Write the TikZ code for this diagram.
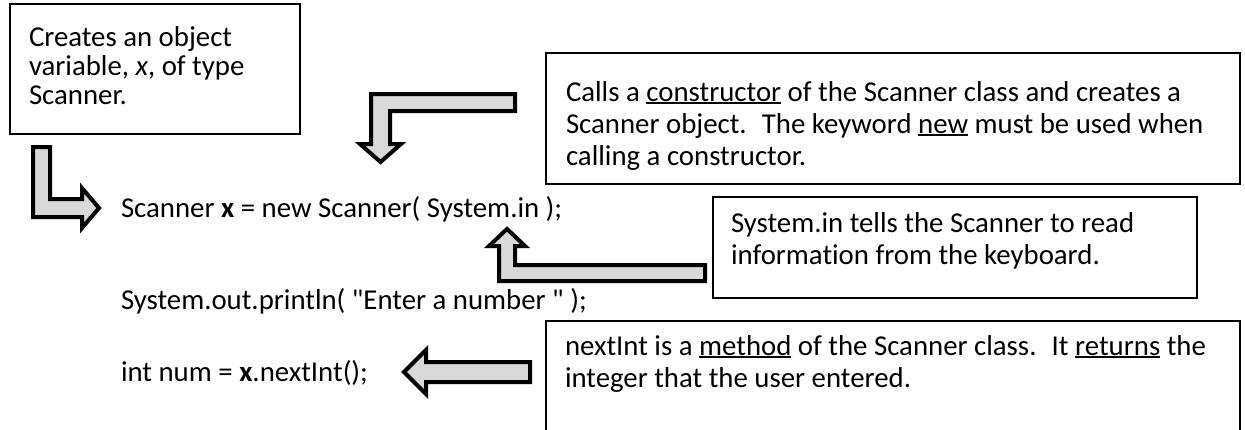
\documentclass[tikz,border=0pt]{standalone}
\usepackage{fontspec}
\setmainfont{Carlito}[Ligatures={TeXOff,CommonOff}]
\definecolor{arrowfill}{RGB}{217,217,217}
\newcommand\myul[1]{\setbox0=\hbox{#1}\rlap{\rule[-3pt]{\wd0}{1.8pt}}\box0\relax}
\tikzset{
  box/.style={draw=black, line width=2.5pt, inner sep=0pt, outer sep=0pt, anchor=north west},
  txt/.style={inner sep=0pt, outer sep=0pt, align=left, anchor=base west, font=\fontsize{28.8}{32}\selectfont},
  txtone/.style={txt, font=\fontsize{28.8}{29}\selectfont},
  blockarrow/.style={draw=black, fill=arrowfill, line width=4pt, line join=miter, miter limit=10},
}
\begin{document}
\begin{tikzpicture}[x=1pt,y=-1pt]
\useasboundingbox (0,0) rectangle (1245,429);
% boxes
\node[box, minimum width=290, minimum height=130] (b1) at (10,4) {};
\node[box, minimum width=694, minimum height=131] (b2) at (546,53) {};
\node[box, minimum width=484, minimum height=101] (b3) at (713,197) {};
\node[box, minimum width=694, minimum height=130] (b4) at (546,321) {};
% box texts (base = last line)
\node[txtone] (t1) at (29,104) {Creates an object\\variable, \textit{x}, of type\\Scanner.};
\node[txt] (t2) at (566,165) {Calls a \myul{constructor} of the Scanner class and creates a\\Scanner object.~ The keyword \myul{new} must be used when\\calling a constructor.};
\node[txt] (t3) at (731,264) {System.in tells the Scanner to read\\information from the keyboard.};
\node[txt] (t4) at (565,387) {nextInt is a \myul{method} of the Scanner class.~ It \myul{returns} the\\integer that the user entered.};
% code lines
\node[txt] (c1) at (121,217) {Scanner \textbf{x} = new Scanner( System.in );};
\node[txt] (c2) at (121,309) {System.out.println( "Enter a number " );};
\node[txt] (c3) at (121,381) {int num = \textbf{x}.nextInt();};
% block arrows
\draw[blockarrow] (33,147) -- (50,147) -- (50,199) -- (82,199) -- (82,188) -- (99,208) -- (82,228) -- (82,217) -- (33,217) -- cycle;
\draw[blockarrow] (371,94) -- (515,94) -- (515,111) -- (390,111) -- (390,144) -- (401,144) -- (380.5,162) -- (360,144) -- (371,144) -- cycle;
\draw[blockarrow] (507,229) -- (525,246) -- (515,246) -- (515,265) -- (705,265) -- (705,281) -- (499,281) -- (499,246) -- (489,246) -- cycle;
\draw[blockarrow] (404,372) -- (426,350) -- (426,362) -- (530,362) -- (530,382) -- (426,382) -- (426,394) -- cycle;
\end{tikzpicture}
\end{document}
